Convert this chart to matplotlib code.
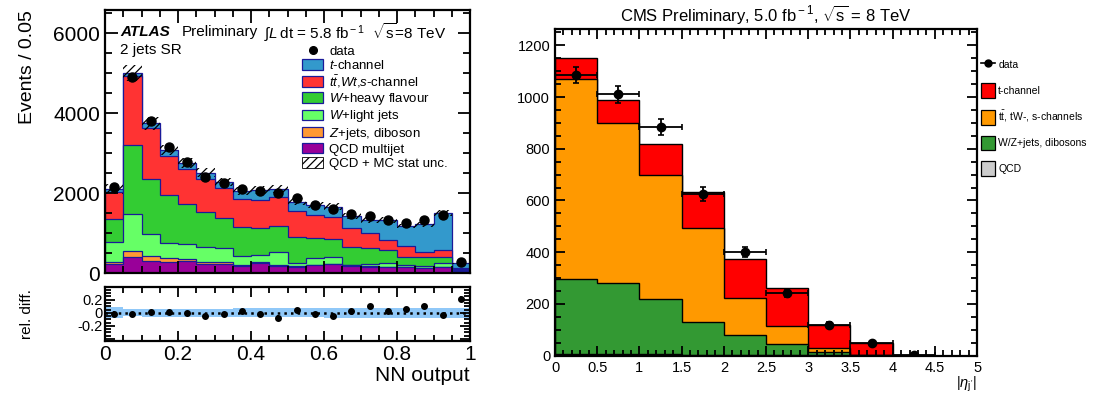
import numpy as np
import matplotlib
matplotlib.use("Agg")
import matplotlib.pyplot as plt
from matplotlib.patches import Patch
from matplotlib.lines import Line2D
from matplotlib.ticker import MultipleLocator, FuncFormatter

plt.rcParams['font.family'] = ['Liberation Sans', 'DejaVu Sans']
plt.rcParams['mathtext.fontset'] = 'custom'
plt.rcParams['mathtext.rm'] = 'Liberation Sans'
plt.rcParams['mathtext.it'] = 'Liberation Sans:italic'
plt.rcParams['mathtext.bf'] = 'Liberation Sans:bold'
plt.rcParams['hatch.linewidth'] = 0.9

# ---------------- ATLAS: NN output, 20 bins of 0.05 ----------------
nn_edges = np.linspace(0, 1, 21)
atlas_qcd = [225, 408, 300, 283, 300, 217, 217, 175, 242, 183, 158, 200, 217, 183, 158, 142, 142, 117, 142, 60]
atlas_zjets = [60, 140, 120, 85, 45, 50, 65, 25, 25, 15, 10, 10, 10, 10, 8, 8, 8, 5, 8, 5]
atlas_wlight = [480, 917, 567, 391, 375, 391, 334, 233, 183, 335, 90, 157, 181, 15, 59, 92, 50, 53, 108, 25]
atlas_wheavy = [575, 1725, 1375, 1184, 1008, 875, 750, 707, 667, 642, 634, 500, 442, 450, 392, 333, 208, 217, 150, 10]
atlas_ttbar = [680, 1733, 1266, 991, 875, 817, 750, 702, 708, 733, 658, 583, 558, 459, 375, 250, 267, 141, 167, 30]
atlas_tchan = [80, 80, 110, 142, 142, 158, 150, 208, 250, 184, 233, 250, 250, 308, 333, 500, 500, 684, 933, 110]
atlas_data = [2160, 4910, 3800, 3150, 2780, 2410, 2240, 2110, 2040, 1990, 1870, 1700, 1590, 1475, 1425, 1325, 1258, 1325, 1450, 283]
atlas_rel_unc = [0.085, 0.055, 0.06, 0.06, 0.065, 0.065, 0.065, 0.07, 0.07, 0.07, 0.07, 0.07, 0.075, 0.075, 0.075, 0.075, 0.075, 0.075, 0.075, 0.08]
rel_diff = [-0.015, -0.015, 0.01, 0.02, 0.005, -0.05, -0.015, 0.035, -0.01, -0.075,
            0.05, -0.015, -0.05, 0.025, 0.11, 0.035, 0.065, 0.10, -0.04, 0.215]
rel_diff_err = [0.05, 0.02, 0.02, 0.02, 0.02, 0.025, 0.025, 0.025, 0.025, 0.04,
                0.03, 0.03, 0.03, 0.03, 0.03, 0.03, 0.03, 0.03, 0.03, 0.05]

atlas_labels = [r"$t$-channel", r"$t\bar{t}$,$Wt$,$s$-channel", r"$W$+heavy flavour",
                r"$W$+light jets", r"$Z$+jets, diboson", "QCD multijet"]
atlas_colors = ['#3399cc', '#ff3333', '#33cc33', '#66ff66', '#ff9933', '#990099']

# ---------------- CMS: |eta_j'|, bins of 0.5 ----------------
eta_edges = np.arange(0, 5.01, 0.5)
cms_qcd = [6, 6, 5, 4, 3, 2, 1, 0, 0, 0]
cms_wz = [289, 274, 213, 125, 76, 42, 12, 2, 0, 0]
cms_top = [774, 619, 481, 366, 143, 72, 16, 2, 0, 0]
cms_tchan = [81, 90, 120, 139, 152, 145, 90, 44, 4, 0]
cms_data = [1085, 1010, 885, 625, 402, 241, 118, 48, 3]
cms_data_err = [32, 32, 30, 26, 20, 15, 11, 7, 2]

cms_labels = ["t-channel", r"t$\bar{\rm t}$, tW-, s-channels", "W/Z+jets, dibosons", "QCD"]
cms_colors = ['#ff0000', '#ff9900', '#339933', '#cccccc']

fig = plt.figure(figsize=(11.01, 3.96), dpi=100)
ax = fig.add_axes([0.0954, 0.3106, 0.3315, 0.6641])
axr = fig.add_axes([0.0954, 0.1389, 0.3315, 0.1372])
axc = fig.add_axes([0.5041, 0.1018, 0.3833, 0.8250])

# ATLAS stack: draw cumulative totals from the top down
comps = [atlas_qcd, atlas_zjets, atlas_wlight, atlas_wheavy, atlas_ttbar, atlas_tchan]
cum = np.cumsum(np.array(comps, dtype=float), axis=0)
stack_colors = atlas_colors[::-1]  # bottom -> top
for i in range(len(comps) - 1, -1, -1):
    ax.stairs(cum[i], nn_edges, baseline=0, fill=True, facecolor=stack_colors[i],
              edgecolor='#1a1a99', lw=0.9)
total = cum[-1]
unc = total * np.array(atlas_rel_unc) * 0.7
ax.stairs(total + unc, nn_edges, baseline=total - unc, fill=True, facecolor='none',
          edgecolor='black', hatch='////', lw=0)
centers = 0.5 * (nn_edges[1:] + nn_edges[:-1])
ax.plot(centers, atlas_data, 'o', color='black', ms=6.5, zorder=5)

ax.set_xlim(0, 1)
ax.set_ylim(0, 6575)
ax.xaxis.set_major_locator(MultipleLocator(0.2))
ax.xaxis.set_minor_locator(MultipleLocator(0.05))
ax.yaxis.set_major_locator(MultipleLocator(2000))
ax.yaxis.set_minor_locator(MultipleLocator(500))
ax.tick_params(axis='both', which='both', direction='in', top=True, right=True, width=1.3)
ax.tick_params(which='major', length=9)
ax.tick_params(which='minor', length=5)
ax.tick_params(axis='x', labelbottom=False)
ax.tick_params(axis='y', labelsize=15)
ax.set_ylabel("Events / 0.05", fontsize=14, loc='top')
ax.yaxis.set_label_coords(-0.19, 1.0)
for s in ax.spines.values():
    s.set_linewidth(1.6)

def fx(px):
    return (px - 105) / 365.0

ax.text(fx(120), 0.915, "ATLAS", transform=ax.transAxes, fontsize=11,
        fontweight='bold', fontstyle='italic', va='center')
ax.text(fx(182), 0.915, "Preliminary", transform=ax.transAxes, fontsize=11, va='center')
ax.text(fx(264), 0.915, r"$\int L\,$dt = 5.8 fb$^{\rm -1}$  $\sqrt{\rm s}$=8 TeV",
        transform=ax.transAxes, fontsize=11, va='center')
ax.text(fx(120), 0.847, "2 jets SR", transform=ax.transAxes, fontsize=11, va='center')

handles = [Line2D([], [], marker='o', color='black', ls='none', ms=5.5)]
for lab, col in zip(atlas_labels, atlas_colors):
    handles.append(Patch(facecolor=col, edgecolor='#1a1a99', lw=0.9))
handles.append(Patch(facecolor='white', edgecolor='black', hatch='////', lw=0.6))
labels = ["data"] + atlas_labels + ["QCD + MC stat unc."]
ax.legend(handles, labels, loc='upper left', bbox_to_anchor=(fx(302), 0.868),
          frameon=False, fontsize=9.5, borderpad=0, borderaxespad=0,
          handlelength=1.6, handleheight=0.85, handletextpad=0.45, labelspacing=0.1)

# ratio panel
axr.stairs(atlas_rel_unc, nn_edges, baseline=-np.array(atlas_rel_unc), fill=True,
           facecolor='#90c8f8', lw=0)
axr.axhline(0, ls=':', color='black', lw=1.8)
axr.errorbar(centers, rel_diff, yerr=rel_diff_err, fmt='o', color='black', ms=4,
             elinewidth=1.2, capsize=0, zorder=5)
axr.set_xlim(0, 1)
axr.set_ylim(-0.43, 0.4)
axr.xaxis.set_major_locator(MultipleLocator(0.2))
axr.xaxis.set_minor_locator(MultipleLocator(0.05))
axr.yaxis.set_major_locator(MultipleLocator(0.2))
axr.yaxis.set_minor_locator(MultipleLocator(0.05))
axr.xaxis.set_major_formatter(FuncFormatter(lambda v, p: f"{v:g}"))
axr.yaxis.set_major_formatter(FuncFormatter(lambda v, p: f"{v:g}" if abs(v) < 0.3 else ""))
axr.tick_params(axis='both', which='both', direction='in', top=True, right=True, width=1.3)
axr.tick_params(which='major', length=7)
axr.tick_params(which='minor', length=4)
axr.tick_params(axis='x', labelsize=15, pad=3)
axr.tick_params(axis='y', labelsize=10.5, pad=2)
axr.set_xlabel("NN output", fontsize=15, loc='right', labelpad=1)
axr.set_ylabel("rel. diff.", fontsize=11)
axr.yaxis.set_label_coords(-0.195, 0.5)
for s in axr.spines.values():
    s.set_linewidth(1.6)

# CMS stack
ccomps = [cms_qcd, cms_wz, cms_top, cms_tchan]
ccum = np.cumsum(np.array(ccomps, dtype=float), axis=0)
cstack_colors = cms_colors[::-1]
for i in range(len(ccomps) - 1, -1, -1):
    axc.stairs(ccum[i], eta_edges, baseline=0, fill=True, facecolor=cstack_colors[i],
               edgecolor='black', lw=1.0)
eta_centers = 0.5 * (eta_edges[1:] + eta_edges[:-1])[:len(cms_data)]
axc.errorbar(eta_centers, cms_data, xerr=0.25, yerr=cms_data_err, fmt='o', color='black',
             ms=6, elinewidth=1.3, capsize=2, capthick=1.2, zorder=5)
axc.set_xlim(0, 5)
axc.set_ylim(0, 1263)
axc.xaxis.set_major_locator(MultipleLocator(0.5))
axc.xaxis.set_minor_locator(MultipleLocator(0.1))
axc.yaxis.set_major_locator(MultipleLocator(200))
axc.yaxis.set_minor_locator(MultipleLocator(50))
axc.xaxis.set_major_formatter(FuncFormatter(lambda v, p: f"{v:g}"))
axc.tick_params(axis='both', which='both', direction='in', top=True, right=True, width=1.3,
                labelsize=10.5)
axc.tick_params(which='major', length=7)
axc.tick_params(which='minor', length=4)
axc.set_title(r"CMS Preliminary, 5.0 fb$^{\rm -1}$, $\sqrt{\rm s}$ = 8 TeV", fontsize=12, pad=6)
axc.set_xlabel(r"$|\eta_{\rm j'}|$", fontsize=10.5, loc='right', labelpad=0)
for s in axc.spines.values():
    s.set_linewidth(1.6)

chandles = [Line2D([], [], marker='o', color='black', ls='-', lw=1.2, ms=5)]
for col in cms_colors:
    chandles.append(Patch(facecolor=col, edgecolor='black', lw=0.9))
axc.legend(chandles, ["data"] + cms_labels, loc='upper left', bbox_to_anchor=(1.0095, 0.912),
           frameon=False, fontsize=7.5, borderpad=0, borderaxespad=0,
           handlelength=1.35, handleheight=1.8, handletextpad=0.3, labelspacing=1.05)

fig.savefig("out.png", dpi=100)
